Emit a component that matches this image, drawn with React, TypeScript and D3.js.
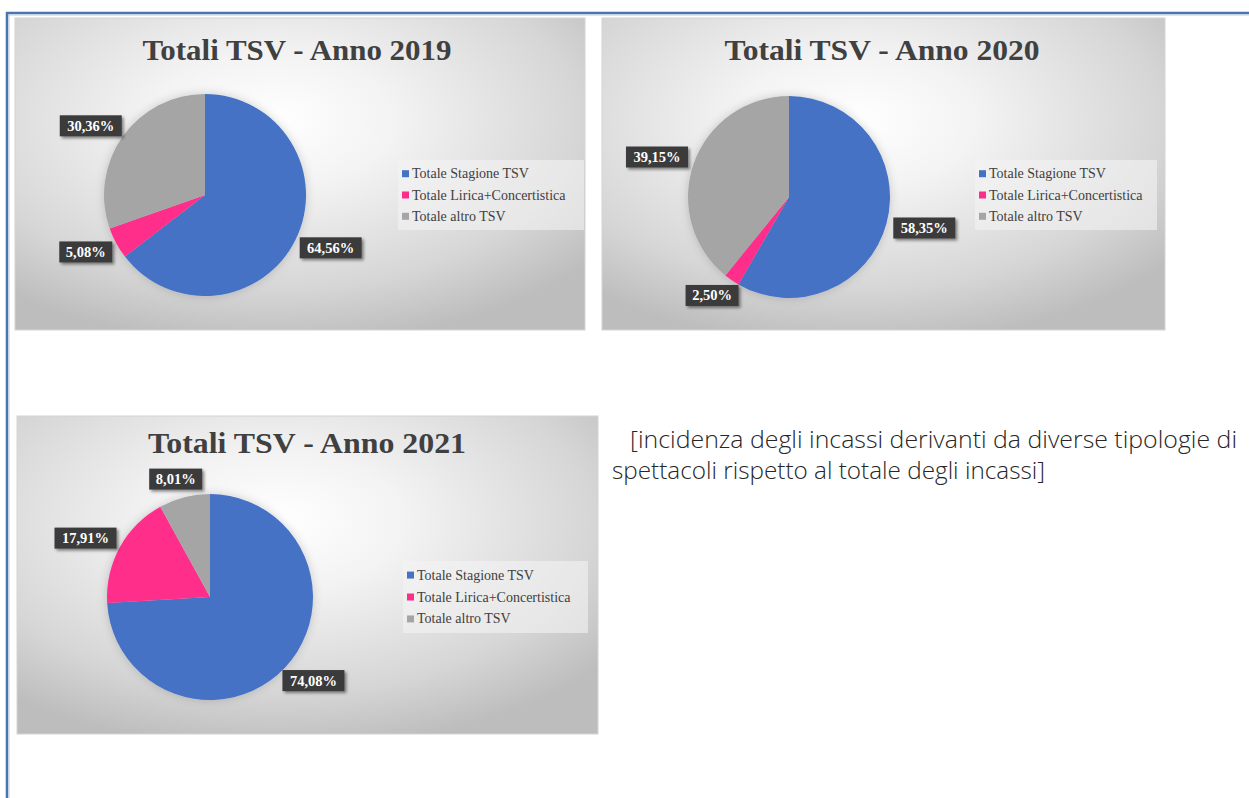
import * as d3 from 'd3';

// quote percentuali per tipologia di spettacolo
const categories = ['Totale Stagione TSV', 'Totale Lirica+Concertistica', 'Totale altro TSV'];
const years = ['2019', '2020', '2021'];
const share2019 = [64.56, 5.08, 30.36];
const share2020 = [58.35, 2.5, 39.15];
const share2021 = [74.08, 17.91, 8.01];
const sliceColors = ['#4472C4', '#FF2D8A', '#A5A5A5'];
const noteLines = [
  '[incidenza degli incassi derivanti da diverse tipologie di',
  'spettacoli rispetto al totale degli incassi]',
];

// dove sta ogni riquadro nella pagina
const panels = [
  { x: 15, y: 18, w: 570, h: 312, cx: 190, cy: 177, r: 101, titleX: 282, titleY: 42, titleW: 309, lx: 383, ly: 142, lw: 186, lh: 70 },
  { x: 602, y: 18, w: 563, h: 312, cx: 187, cy: 179, r: 101, titleX: 280, titleY: 42, titleW: 315, lx: 373, ly: 142, lw: 182, lh: 70 },
  { x: 17, y: 416, w: 581, h: 318, cx: 193, cy: 181, r: 103, titleX: 290, titleY: 37, titleW: 318, lx: 386, ly: 145, lw: 185, lh: 72 },
];

const color = d3.scaleOrdinal<string, string>().domain(categories).range(sliceColors);
const fmt = (v: number) => d3.format('.2f')(v).replace('.', ',') + '%';

const PiePanel = ({ year, values, p }) => {
  const rows = categories.map((c, i) => ({ name: c, value: values[i] }));
  const pie = d3.pie<any>().sort(null).value((d) => d.value);
  const arcs = pie(rows);
  const arc = d3.arc<any>().innerRadius(0).outerRadius(p.r);
  // punto appena fuori dal bordo, poi l'etichetta si sposta verso l'esterno
  const labelArc = d3.arc<any>().innerRadius(p.r * 1.08).outerRadius(p.r * 1.08);
  const legendY = d3.scaleBand().domain(categories).range([2, p.lh - 2]).padding(0.1);

  return (
    <g transform={`translate(${p.x},${p.y})`}>
      <rect width={p.w} height={p.h} fill="url(#bgGrad)" stroke="#d4d4d4" strokeWidth={1} />
      <text
        x={p.titleX}
        y={p.titleY}
        textAnchor="middle"
        fontFamily="'Liberation Serif', 'DejaVu Serif', serif"
        fontWeight="bold"
        fontSize={30}
        fill="#404040"
        textLength={p.titleW}
        lengthAdjust="spacingAndGlyphs"
      >
        {`Totali TSV - Anno ${year}`}
      </text>

      <g transform={`translate(${p.cx},${p.cy})`} filter="url(#pieShadow)">
        {arcs.map((a) => (
          <path key={a.data.name} d={arc(a)} fill={color(a.data.name)} />
        ))}
      </g>

      {arcs.map((a) => {
        const [px, py] = labelArc.centroid(a);
        const mid = (a.startAngle + a.endAngle) / 2;
        const txt = fmt(a.data.value);
        const bw = txt.length * 9 + 8;
        const bh = 21;
        const lx = px + (bw / 2) * Math.sin(mid);
        const ly = py - (bh / 2) * Math.cos(mid);
        return (
          <g key={'l' + a.data.name} transform={`translate(${p.cx + lx},${p.cy + ly})`}>
            <rect x={-bw / 2} y={-bh / 2} width={bw} height={bh} fill="#3b3b3b" filter="url(#boxShadow)" />
            <text
              y={5}
              textAnchor="middle"
              fontFamily="'Liberation Serif', 'DejaVu Serif', serif"
              fontWeight="bold"
              fontSize={14.5}
              fill="#ffffff"
            >
              {txt}
            </text>
          </g>
        );
      })}

      <g transform={`translate(${p.lx},${p.ly})`}>
        <rect width={p.lw} height={p.lh} fill="#f4f4f4" opacity={0.6} />
        {categories.map((c) => {
          const yy = legendY(c) + legendY.bandwidth() / 2;
          return (
            <g key={c}>
              <rect x={4} y={yy - 3.5} width={7} height={7} fill={color(c)} />
              <text
                x={14}
                y={yy + 4.5}
                fontFamily="'Liberation Serif', 'DejaVu Serif', serif"
                fontSize={14}
                fill="#404040"
              >
                {c}
              </text>
            </g>
          );
        })}
      </g>
    </g>
  );
};

export default function App() {
  const series = [share2019, share2020, share2021];
  return (
    <svg
      width={1249}
      height={798}
      style={{ position: 'absolute', left: 0, top: 0, display: 'block', background: '#ffffff' }}
    >
      <defs>
        <radialGradient id="bgGrad" cx="0.45" cy="0.33" r="0.72">
          <stop offset="0" stopColor="#ffffff" />
          <stop offset="0.3" stopColor="#f3f3f3" />
          <stop offset="0.75" stopColor="#d6d6d6" />
          <stop offset="1" stopColor="#bdbdbd" />
        </radialGradient>
        <filter id="boxShadow" x="-30%" y="-50%" width="170%" height="220%">
          <feDropShadow dx="2" dy="2" stdDeviation="1.5" floodColor="#000" floodOpacity="0.45" />
        </filter>
        <filter id="pieShadow" x="-20%" y="-20%" width="140%" height="140%">
          <feDropShadow dx="0" dy="0" stdDeviation="5" floodColor="#000" floodOpacity="0.18" />
        </filter>
      </defs>

      {/* cornice blu */}
      <line x1={6} x2={1249} y1={13} y2={13} stroke="#4a76a8" strokeWidth={2.5} />
      <line x1={6} x2={1249} y1={15} y2={15} stroke="#b9cde6" strokeWidth={1} />
      <line x1={7} x2={7} y1={12} y2={798} stroke="#4a76a8" strokeWidth={2.5} />
      <line x1={9} x2={9} y1={15} y2={798} stroke="#b9cde6" strokeWidth={1} />

      {panels.map((p, i) => (
        <PiePanel key={years[i]} year={years[i]} values={series[i]} p={p} />
      ))}

      <text
        x={630}
        y={448}
        fontFamily="'Open Sans', 'Noto Sans', sans-serif"
        fontWeight={300}
        fontSize={23}
        fill="#262626"
        textLength={607}
        lengthAdjust="spacingAndGlyphs"
      >
        {noteLines[0]}
      </text>
      <text
        x={612}
        y={479}
        fontFamily="'Open Sans', 'Noto Sans', sans-serif"
        fontWeight={300}
        fontSize={23}
        fill="#262626"
        textLength={433}
        lengthAdjust="spacingAndGlyphs"
      >
        {noteLines[1]}
      </text>
    </svg>
  );
}
